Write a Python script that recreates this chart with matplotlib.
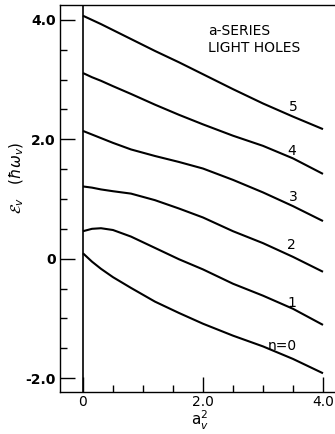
import numpy as np
import matplotlib
matplotlib.use("Agg")
import matplotlib.pyplot as plt
from matplotlib.ticker import MultipleLocator, FixedLocator, FixedFormatter

# a_v^2 values where the curves were read
a2 = [0, 0.15, 0.3, 0.5, 0.8, 1.2, 1.6, 2.0, 2.5, 3.0, 3.5, 4.0]

# energies e_v (hbar omega_v) for n = 0..5
e_n5 = [4.07, 4.00, 3.93, 3.83, 3.68, 3.48, 3.29, 3.09, 2.84, 2.60, 2.38, 2.17]
e_n4 = [3.11, 3.04, 2.98, 2.89, 2.76, 2.58, 2.41, 2.25, 2.06, 1.89, 1.68, 1.42]
e_n3 = [2.14, 2.08, 2.02, 1.94, 1.83, 1.72, 1.62, 1.51, 1.32, 1.11, 0.88, 0.63]
e_n2 = [1.21, 1.19, 1.16, 1.13, 1.09, 0.98, 0.84, 0.69, 0.46, 0.26, 0.03, -0.22]
e_n1 = [0.46, 0.50, 0.51, 0.48, 0.37, 0.18, -0.01, -0.18, -0.42, -0.62, -0.84, -1.11]
e_n0 = [0.09, -0.05, -0.17, -0.31, -0.49, -0.72, -0.91, -1.09, -1.29, -1.47, -1.68, -1.92]

curves = [e_n0, e_n1, e_n2, e_n3, e_n4, e_n5]
labels = ["n=0", "1", "2", "3", "4", "5"]
label_pos = [(3.33, -1.46), (3.48, -0.74), (3.48, 0.23), (3.5, 1.04), (3.47, 1.80), (3.5, 2.54)]

xticks = [0, 2, 4]
xticklabels = ["0", "2.0", "4.0"]
yticks = [-2, 0, 2, 4]
yticklabels = ["-2.0", "0", "2.0", "4.0"]

fig = plt.figure(figsize=(3.35, 4.34), dpi=100)
ax = fig.add_axes([60/335, 1 - 392/434, 275/335, 387/434])

for e in curves:
    ax.plot(a2, e, color="black", lw=1.5, solid_capstyle="butt")

for lab, (x, y) in zip(labels, label_pos):
    ax.text(x, y, lab, fontsize=10, ha="center", va="center")

ax.axvline(0, color="black", lw=1.2)

ax.set_xlim(-0.383, 4.2)
ax.set_ylim(-2.234, 4.25)

ax.spines["right"].set_visible(False)
for s in ["left", "bottom", "top"]:
    ax.spines[s].set_linewidth(1.0)

ax.xaxis.set_major_locator(FixedLocator(xticks))
ax.xaxis.set_major_formatter(FixedFormatter(xticklabels))
ax.xaxis.set_minor_locator(MultipleLocator(0.5))
ax.yaxis.set_major_locator(FixedLocator(yticks))
ax.yaxis.set_major_formatter(FixedFormatter(yticklabels))
ax.yaxis.set_minor_locator(MultipleLocator(0.5))

ax.tick_params(which="major", direction="in", length=11, width=1.0, labelsize=10, pad=3)
ax.tick_params(which="minor", direction="in", length=5, width=1.0)
ax.tick_params(axis="x", which="both", top=False, pad=2)
ax.tick_params(axis="y", which="both", right=False)
for t in ax.get_yticklabels():
    t.set_fontweight("bold")

ax.text(0.538, 0.91, "a-SERIES\nLIGHT HOLES", transform=ax.transAxes,
        fontsize=10, ha="left", va="center", linespacing=1.25)

fig.text(17/335, 1 - 178/434, r"$\mathcal{E}_v$   $(\hbar\omega_v)$",
         rotation=90, fontsize=11, ha="center", va="center")
fig.text(200/335, 2/434, r"a$_v^2$", fontsize=11, ha="center", va="bottom")

fig.savefig("out.png", dpi=100)
